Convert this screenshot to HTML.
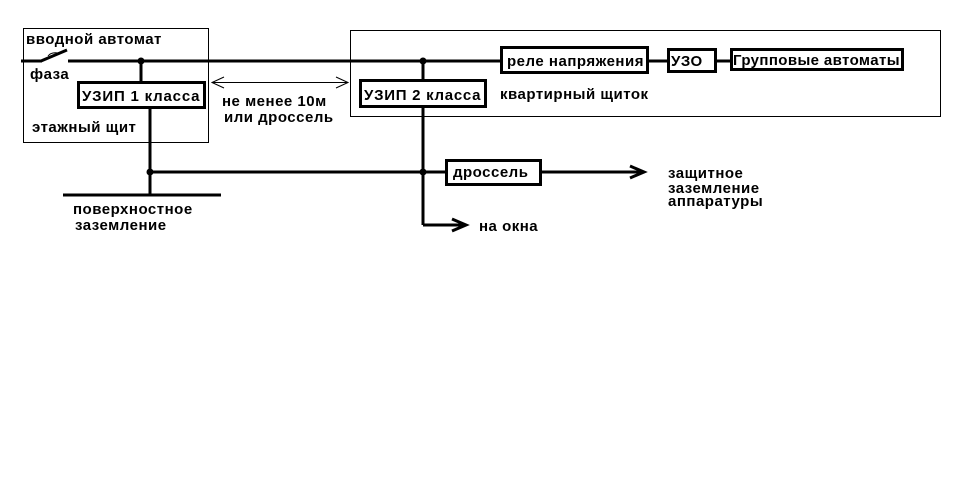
<!DOCTYPE html>
<html><head><meta charset="utf-8"><style>
body{margin:0;background:#fff}
svg text{font-family:"Liberation Sans",Arial,sans-serif;font-weight:bold;font-size:15px;letter-spacing:0.5px;fill:#000}
</style></head><body>
<svg width="961" height="477" viewBox="0 0 961 477" xmlns="http://www.w3.org/2000/svg">
<rect x="0" y="0" width="961" height="477" fill="#fff"/>
<g fill="none" stroke="#000" stroke-width="1">
<rect x="23.5" y="28.5" width="185" height="114"/>
<rect x="350.5" y="30.5" width="590" height="86"/>
<line x1="212" y1="82.5" x2="348" y2="82.5"/>
<polyline points="224,77 212,82.5 224,88"/>
<polyline points="336,77 348,82.5 336,88"/>
</g>
<g stroke="#000" stroke-width="3" fill="none">
<line x1="21" y1="61" x2="42" y2="61"/>
<line x1="41" y1="61" x2="67" y2="50"/>
<line x1="68" y1="61" x2="500" y2="61"/>
<line x1="141" y1="61" x2="141" y2="81"/>
<line x1="423" y1="61" x2="423" y2="79"/>
<line x1="150" y1="108" x2="150" y2="195"/>
<line x1="63" y1="195" x2="221" y2="195"/>
<line x1="150" y1="172" x2="446" y2="172"/>
<line x1="423" y1="107" x2="423" y2="225"/>
<line x1="423" y1="225" x2="465" y2="225"/>
<line x1="541" y1="172" x2="642" y2="172"/>
<line x1="648" y1="61" x2="668" y2="61"/>
<line x1="716" y1="61" x2="731" y2="61"/>
<rect x="78.5" y="82.5" width="126" height="25"/>
<rect x="360.5" y="80.5" width="125" height="26"/>
<rect x="501.5" y="47.5" width="146" height="25"/>
<rect x="668.5" y="49.5" width="47" height="22"/>
<rect x="731.5" y="49.5" width="171" height="20"/>
<rect x="446.5" y="160.5" width="94" height="24"/>
<polyline points="630,166 644,172 630,178"/>
<polyline points="452,219 466,225 452,231"/>
</g>
<g fill="#000">
<circle cx="141" cy="61" r="3.5"/>
<circle cx="423" cy="61" r="3.5"/>
<circle cx="150" cy="172" r="3.5"/>
<circle cx="423" cy="172" r="3.5"/>
</g>
<path d="M48,56 q3,-4 10,-3" stroke="#000" stroke-width="1" fill="none"/>
<text x="26" y="44">вводной автомат</text>
<text x="30" y="79">фаза</text>
<text x="82" y="101" textLength="118">УЗИП 1 класса</text>
<text x="32" y="132">этажный щит</text>
<text x="222" y="106">не менее 10м</text>
<text x="224" y="122">или дроссель</text>
<text x="364" y="100" textLength="117">УЗИП 2 класса</text>
<text x="507" y="66" textLength="137">реле напряжения</text>
<text x="671" y="66">УЗО</text>
<text x="733" y="65" textLength="167">Групповые автоматы</text>
<text x="500" y="99">квартирный щиток</text>
<text x="453" y="177">дроссель</text>
<text x="668" y="178">защитное</text>
<text x="668" y="193">заземление</text>
<text x="668" y="206">аппаратуры</text>
<text x="479" y="231">на окна</text>
<text x="73" y="214">поверхностное</text>
<text x="75" y="230">заземление</text>
</svg>
</body></html>
